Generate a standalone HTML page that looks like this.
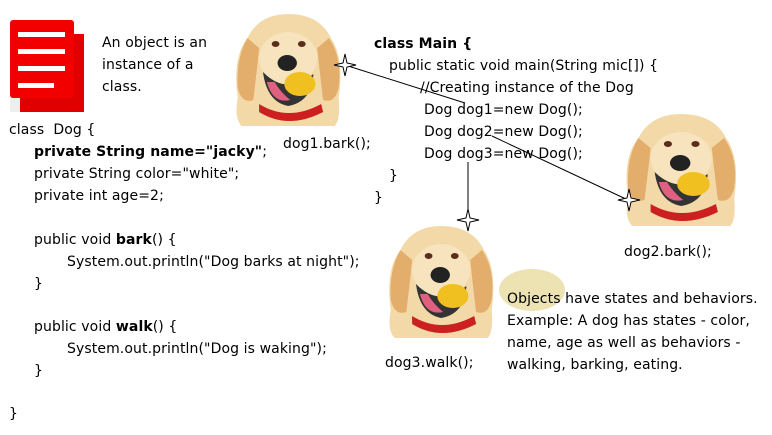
<!DOCTYPE html>
<html><head><meta charset="utf-8"><style>
body{margin:0;width:772px;height:435px;background:#fff;position:relative;overflow:hidden;font-family:"DejaVu Sans","Liberation Sans",sans-serif;font-size:14px;color:#000}
.t{position:absolute;white-space:nowrap;line-height:18px;letter-spacing:0.1px}
b{font-weight:bold}
svg{position:absolute;left:0;top:0}
</style></head><body>
<svg width="772" height="435" viewBox="0 0 772 435">
<defs>
<g id="dog">
<path d="M18 30 Q30 6 60 6 Q92 6 104 30 Q118 50 112 90 Q114 112 108 118 L12 118 Q4 110 8 90 Q2 50 18 30Z" fill="#f3d9a8"/>
<path d="M18 30 Q6 50 8 80 Q12 96 24 92 Q28 60 30 40Z" fill="#e3ad6c"/>
<path d="M102 30 Q116 50 112 80 Q108 96 96 92 Q92 60 90 40Z" fill="#e3ad6c"/>
<ellipse cx="60" cy="50" rx="30" ry="26" fill="#f7e3bd"/>
<ellipse cx="47" cy="36" rx="4" ry="3" fill="#5a2e1a"/>
<ellipse cx="74" cy="36" rx="4" ry="3" fill="#5a2e1a"/>
<ellipse cx="59" cy="55" rx="10" ry="8" fill="#222"/>
<path d="M34 64 Q58 88 86 66 Q84 94 60 98 Q38 94 34 64Z" fill="#333"/>
<path d="M38 74 Q44 96 62 92 Q52 84 46 74Z" fill="#e06080"/>
<ellipse cx="72" cy="76" rx="16" ry="12" fill="#f0c020"/>
<path d="M30 96 Q60 114 94 96 L96 104 Q60 122 30 104Z" fill="#cc2020"/>
</g>
<g id="star"><path d="M0 -11 L2 -2 L11 0 L2 2 L0 11 L-2 2 L-11 0 L-2 -2Z" fill="#fff" stroke="#000" stroke-width="1"/></g>
</defs>
<rect x="20" y="34" width="64" height="78" fill="#e00000"/>
<rect x="10" y="20" width="64" height="78" rx="3" fill="#f20000"/>
<rect x="10" y="98" width="10" height="14" fill="#eee"/>
<rect x="18" y="32" width="47" height="5" fill="#fff"/>
<rect x="18" y="49" width="47" height="5" fill="#fff"/>
<rect x="18" y="66" width="47" height="5" fill="#fff"/>
<rect x="18" y="83" width="36" height="5" fill="#fff"/>
<use href="#dog" transform="translate(230,8) scale(0.97,1)"/>
<use href="#dog" transform="translate(620,108) scale(1.02,1)"/>
<use href="#dog" transform="translate(383,220) scale(0.97,1)"/>
<ellipse cx="532" cy="290" rx="33" ry="21" fill="#ede2b2"/>
<line x1="345" y1="65" x2="465" y2="103" stroke="#000" stroke-width="1"/>
<line x1="492" y1="136" x2="628" y2="200" stroke="#000" stroke-width="1"/>
<line x1="468" y1="162" x2="468" y2="220" stroke="#000" stroke-width="1"/>
<use href="#star" x="345" y="65"/>
<use href="#star" x="629" y="200"/>
<use href="#star" x="468" y="220"/>
</svg>
<div class="t" style="left:102px;top:32px;line-height:22px">An object is an<br>instance of a<br>class.</div>
<div class="t" style="left:9px;top:121px">class&nbsp; Dog {</div>
<div class="t" style="left:34px;top:143px"><b>private String name="jacky"</b>;</div>
<div class="t" style="left:34px;top:165px">private String color="white";</div>
<div class="t" style="left:34px;top:187px">private int age=2;</div>
<div class="t" style="left:34px;top:231px">public void <b>bark</b>() {</div>
<div class="t" style="left:67px;top:253px">System.out.println("Dog barks at night");</div>
<div class="t" style="left:34px;top:275px">}</div>
<div class="t" style="left:34px;top:318px">public void <b>walk</b>() {</div>
<div class="t" style="left:67px;top:340px">System.out.println("Dog is waking");</div>
<div class="t" style="left:34px;top:362px">}</div>
<div class="t" style="left:9px;top:405px">}</div>
<div class="t" style="left:283px;top:135px">dog1.bark();</div>
<div class="t" style="left:374px;top:35px"><b>class Main {</b></div>
<div class="t" style="left:389px;top:57px">public static void main(String mic[]) {</div>
<div class="t" style="left:420px;top:79px">//Creating instance of the Dog</div>
<div class="t" style="left:424px;top:101px">Dog dog1=new Dog();</div>
<div class="t" style="left:424px;top:123px">Dog dog2=new Dog();</div>
<div class="t" style="left:424px;top:145px">Dog dog3=new Dog();</div>
<div class="t" style="left:389px;top:167px">}</div>
<div class="t" style="left:374px;top:189px">}</div>
<div class="t" style="left:624px;top:243px">dog2.bark();</div>
<div class="t" style="left:385px;top:354px">dog3.walk();</div>
<div class="t" style="left:507px;top:288px;line-height:22px">Objects have states and behaviors.<br>Example: A dog has states - color,<br>name, age as well as behaviors -<br>walking, barking, eating.</div>
</body></html>
